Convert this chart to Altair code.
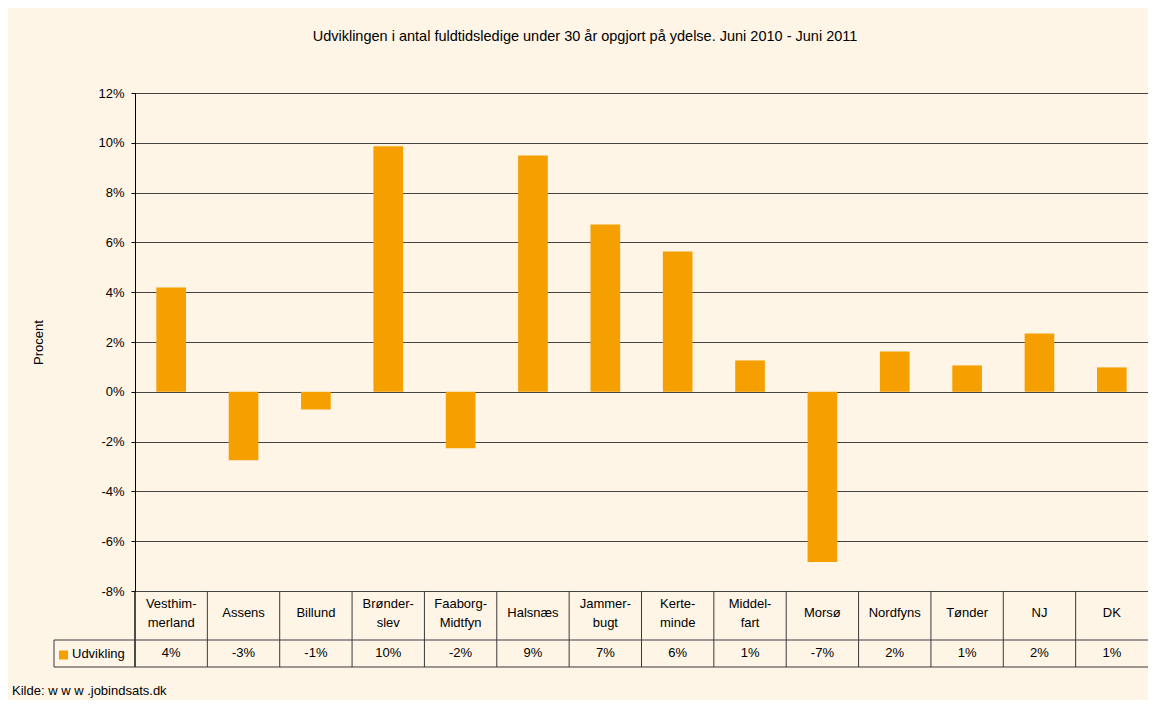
import altair as alt
import pandas as pd

# ---- data ----
names = ["Vesthimmerland", "Assens", "Billund", "Brønderslev", "Faaborg-Midtfyn",
         "Halsnæs", "Jammerbugt", "Kerteminde", "Middelfart", "Morsø",
         "Nordfyns", "Tønder", "NJ", "DK"]
display_labels = ["Vesthim-\nmerland", "Assens", "Billund", "Brønder-\nslev",
                  "Faaborg-\nMidtfyn", "Halsnæs", "Jammer-\nbugt", "Kerte-\nminde",
                  "Middel-\nfart", "Morsø", "Nordfyns", "Tønder", "NJ", "DK"]
values = [4.19, -2.75, -0.71, 9.86, -2.27, 9.49, 6.72, 5.63, 1.26, -6.84,
          1.62, 1.06, 2.34, 0.98]
table_values = ["4%", "-3%", "-1%", "10%", "-2%", "9%", "7%", "6%", "1%", "-7%",
                "2%", "1%", "2%", "1%"]
y_ticks = [-8, -6, -4, -2, 0, 2, 4, 6, 8, 10, 12]

title_text = "Udviklingen i antal fuldtidsledige under 30 år opgjort på ydelse. Juni 2010 - Juni 2011"
series_name = "Udvikling"
source_text = "Kilde: w w w .jobindsats.dk"

df = pd.DataFrame({"name": names, "label": display_labels,
                   "value": values, "tv": table_values})

W, H = 1013, 498
FONT = "Liberation Sans"
BAR = "#F5A000"
LINE = "#3a3a3a"
BG = "#FEF5E7"

xs = alt.X("name:N", sort=names, axis=None,
           scale=alt.Scale(paddingInner=0, paddingOuter=0))

base = alt.Chart(df)

bars = base.mark_bar(color=BAR, width=alt.RelativeBandSize(0.41)).encode(
    x=xs,
    y=alt.Y("value:Q",
            scale=alt.Scale(domain=[-8, 12], nice=False, zero=False),
            axis=alt.Axis(values=y_ticks, labelExpr="datum.value + '%'",
                          title="Procent", titleFont=FONT, titleFontSize=13,
                          titleFontWeight="normal", titleColor="#000",
                          titleX=-97, titleY=H / 2, titleAngle=-90,
                          titleAlign="center", titleBaseline="middle",
                          labelFont=FONT, labelFontSize=13, labelColor="#000",
                          labelPadding=7, tickSize=4, tickColor="#000",
                          domainColor="#000", grid=True, gridColor="#444",
                          gridWidth=1)),
)

# table: vertical separators at band starts
seps = base.mark_rule(color=LINE, strokeWidth=1).encode(
    x=alt.X("name:N", sort=names, bandPosition=0, axis=None),
    y=alt.value(H), y2=alt.value(H + 76),
)

cat_two = base.transform_filter("indexof(datum.label, '\\n') >= 0").mark_text(
    font=FONT, fontSize=13, color="#000", lineBreak="\n", lineHeight=19,
    baseline="middle").encode(
    x=alt.X("name:N", sort=names, axis=None),
    y=alt.value(H + 13),
    text="label:N",
)
cat_one = base.transform_filter("indexof(datum.label, '\\n') < 0").mark_text(
    font=FONT, fontSize=13, color="#000", baseline="middle").encode(
    x=alt.X("name:N", sort=names, axis=None),
    y=alt.value(H + 22),
    text="label:N",
)

val_text = base.mark_text(font=FONT, fontSize=13, color="#000",
                          baseline="middle").encode(
    x=alt.X("name:N", sort=names, axis=None),
    y=alt.value(H + 62),
    text="tv:N",
)

one = alt.Chart(pd.DataFrame({"t": [title_text], "s": [series_name], "k": [source_text]}))

# horizontal table lines and the series-label cell
hline_mid = one.mark_rule(color=LINE, strokeWidth=1).encode(
    x=alt.value(-81), x2=alt.value(W), y=alt.value(H + 49))
hline_bot = one.mark_rule(color=LINE, strokeWidth=1).encode(
    x=alt.value(-81), x2=alt.value(W), y=alt.value(H + 76))
vline_left = one.mark_rule(color=LINE, strokeWidth=1).encode(
    x=alt.value(-81), y=alt.value(H + 49), y2=alt.value(H + 76))
vline_axis = one.mark_rule(color="#000", strokeWidth=1).encode(
    x=alt.value(0), y=alt.value(H), y2=alt.value(H + 76))

swatch = one.mark_square(color=BAR, size=81, opacity=1).encode(
    x=alt.value(-71.5), y=alt.value(H + 64))
series_label = one.mark_text(font=FONT, fontSize=13, color="#000",
                             align="left", baseline="alphabetic").encode(
    x=alt.value(-63), y=alt.value(H + 67), text="s:N")

title = one.mark_text(font=FONT, fontSize=14.5, color="#000",
                      align="center", baseline="middle").encode(
    x=alt.value(450), y=alt.value(-56), text="t:N")

source = one.mark_text(font=FONT, fontSize=13, color="#000",
                       align="left", baseline="alphabetic").encode(
    x=alt.value(-123), y=alt.value(H + 104), text="k:N")

chart = alt.layer(
    bars, seps, vline_axis, hline_mid, hline_bot, vline_left,
    cat_two, cat_one, val_text, swatch, series_label, title, source,
).properties(
    width=W, height=H,
    background=BG,
    padding={"left": 127, "top": 85, "right": 0, "bottom": 109},
    autosize=alt.AutoSizeParams(type="none"),
).configure_view(stroke=None)

chart.save("out.html", embed_options={"renderer": "svg", "actions": False})
